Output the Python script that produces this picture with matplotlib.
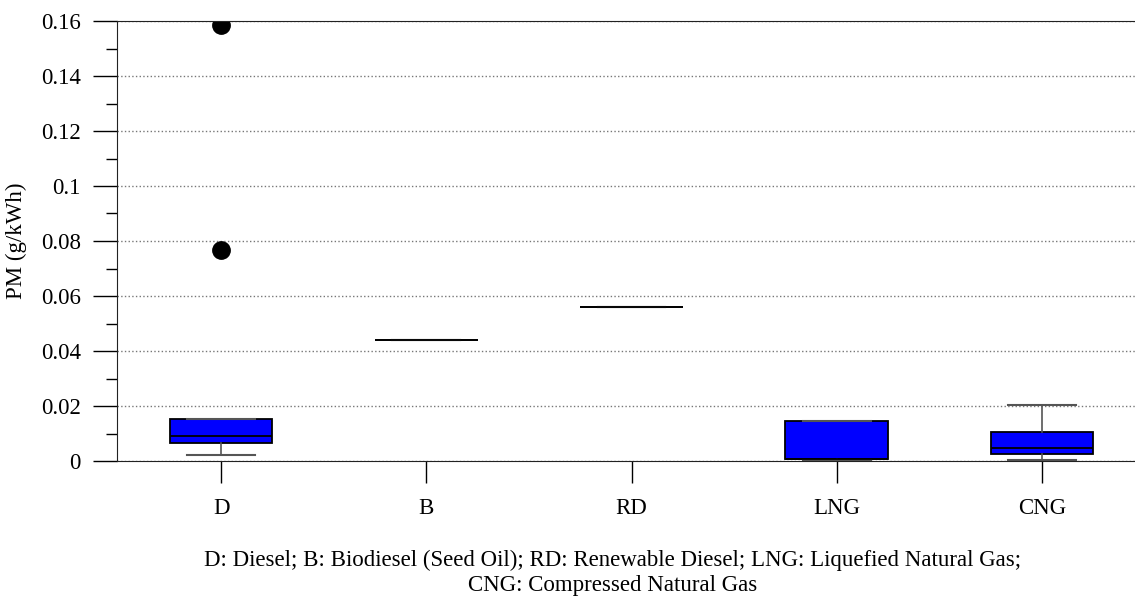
import matplotlib.pyplot as plt
from matplotlib.ticker import MultipleLocator

# fuel categories and box statistics (g/kWh)
fuels = ['D', 'B', 'RD', 'LNG', 'CNG']
q1 = [0.0066, 0.044, 0.056, 0.0007, 0.0025]
med = [0.0092, 0.044, 0.056, 0.0007, 0.0046]
q3 = [0.0152, 0.044, 0.056, 0.0145, 0.0104]
whislo = [0.0023, 0.044, 0.056, 0.0003, 0.0003]
whishi = [0.0152, 0.044, 0.056, 0.0145, 0.0205]
outliers = [[0.0767, 0.1585], [], [], [], []]

plt.rcParams['font.family'] = ['Liberation Serif', 'DejaVu Serif']
fs = 16.5

stats = []
for i in range(len(fuels)):
    stats.append({'label': fuels[i], 'q1': q1[i], 'med': med[i], 'q3': q3[i],
                  'whislo': whislo[i], 'whishi': whishi[i], 'fliers': outliers[i]})

fig = plt.figure(figsize=(11.35, 5.98), dpi=100)
ax = fig.add_axes([117/1135, 1 - 461/598, 1 - 117/1135, (461 - 21)/598])

ax.bxp(stats, positions=range(len(fuels)), widths=0.5, patch_artist=True,
       boxprops=dict(facecolor='#0000ff', edgecolor='black', linewidth=1.3),
       medianprops=dict(color='black', linewidth=1.3),
       whiskerprops=dict(color='#555555', linewidth=1.2),
       capprops=dict(color='#555555', linewidth=1.5),
       capwidths=0.33,
       flierprops=dict(marker='o', markerfacecolor='black', markeredgecolor='black',
                       markersize=12.5))

ax.set_xlim(-0.507, 4.453)
ax.set_ylim(0, 0.16)
ax.yaxis.set_minor_locator(MultipleLocator(0.01))
ax.set_yticks([0, 0.02, 0.04, 0.06, 0.08, 0.1, 0.12, 0.14, 0.16])
ax.set_yticklabels(['0', '0.02', '0.04', '0.06', '0.08', '0.1', '0.12', '0.14', '0.16'])
ax.tick_params(axis='y', which='major', direction='out', length=17, width=1, labelsize=fs, pad=9)
ax.tick_params(axis='y', which='minor', direction='out', length=8, width=1)
ax.tick_params(axis='x', direction='out', length=16, width=1, labelsize=fs, pad=11)
ax.grid(axis='y', which='major', linestyle=':', color='#777777', linewidth=1)
ax.set_axisbelow(True)

ax.spines['right'].set_visible(False)
for s in ['left', 'top', 'bottom']:
    ax.spines[s].set_color('#222222')

ax.set_ylabel('PM (g/kWh)', fontsize=fs, labelpad=10)

fig.text(613/1135, 1 - 573/598,
         'D: Diesel; B: Biodiesel (Seed Oil); RD: Renewable Diesel; LNG: Liquefied Natural Gas;\nCNG: Compressed Natural Gas',
         ha='center', va='center', fontsize=fs, linespacing=1.3)

fig.savefig('out.png', dpi=100)
